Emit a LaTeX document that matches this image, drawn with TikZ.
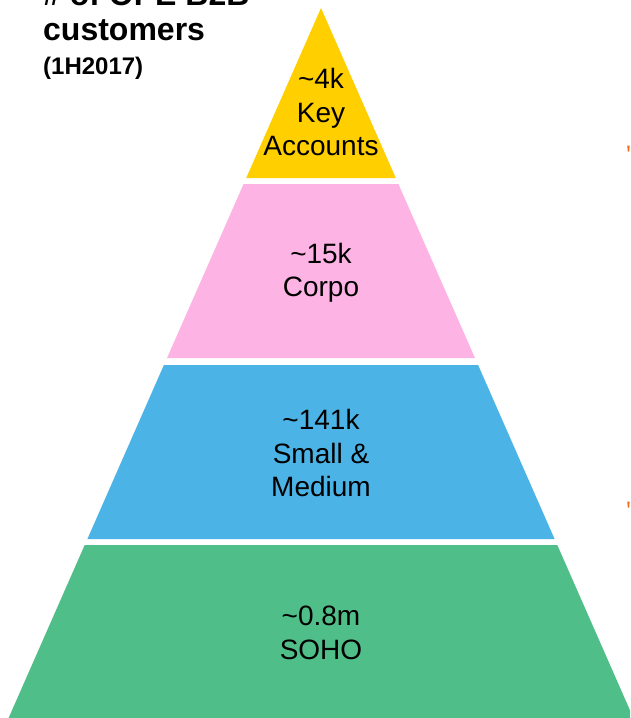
\documentclass[tikz,border=0pt]{standalone}
\usepackage{fontspec}
\setmainfont{Liberation Sans}
\definecolor{tierKey}{RGB}{255,207,0}
\definecolor{tierCorp}{RGB}{253,180,228}
\definecolor{tierSME}{RGB}{76,179,230}
\definecolor{tierSoho}{RGB}{80,190,136}
\definecolor{tickOrange}{RGB}{240,110,30}
\begin{document}
\begin{tikzpicture}[x=1pt,y=-1pt,
  tierlabel/.style={align=center,font=\fontsize{28}{33.5}\selectfont,inner sep=0pt},
  heading/.style={anchor=base west,inner sep=0pt,font=\bfseries\fontsize{32}{34}\selectfont},
  subheading/.style={anchor=base west,inner sep=0pt,font=\bfseries\fontsize{24}{26}\selectfont},
  tick/.style={fill=tickOrange}]
\useasboundingbox (0,0) rectangle (630,718);
\clip (0,0) rectangle (630,718);
% pyramid tiers, top to bottom
\fill[tierKey]  (321,8) -- (246.2,178) -- (395.8,178) -- cycle;
\fill[tierCorp] (243.6,184) -- (398.4,184) -- (475,358) -- (167,358) -- cycle;
\fill[tierSME]  (163.9,365) -- (478.1,365) -- (554.6,539) -- (87.4,539) -- cycle;
\fill[tierSoho] (84.7,545) -- (557.3,545) -- (633.4,718) -- (8.6,718) -- cycle;
% tier labels
\node[tierlabel] (key)  at (321,112) {\textasciitilde4k\\Key\\Accounts};
\node[tierlabel] (corp) at (321,273) {\textasciitilde15k\\Corpo};
\node[tierlabel] (sme)  at (321,453) {\textasciitilde141k\\Small \&\\Medium};
\node[tierlabel] (soho) at (321,633) {\textasciitilde0.8m\\SOHO};
% heading
\node[heading] (h1) at (43,5) {\# of OPE B2B};
\node[heading] (h2) at (43,40) {customers};
\node[subheading] (h3) at (43,74) {(1H2017)};
% small marks at the right edge
\path[tick] (627.2,145.5) -- (629.6,145.5) -- (629.2,151.5) -- (627.8,151.5) -- cycle;
\path[tick] (627.2,501.5) -- (629.6,501.5) -- (629.2,507.5) -- (627.8,507.5) -- cycle;
\end{tikzpicture}
\end{document}
